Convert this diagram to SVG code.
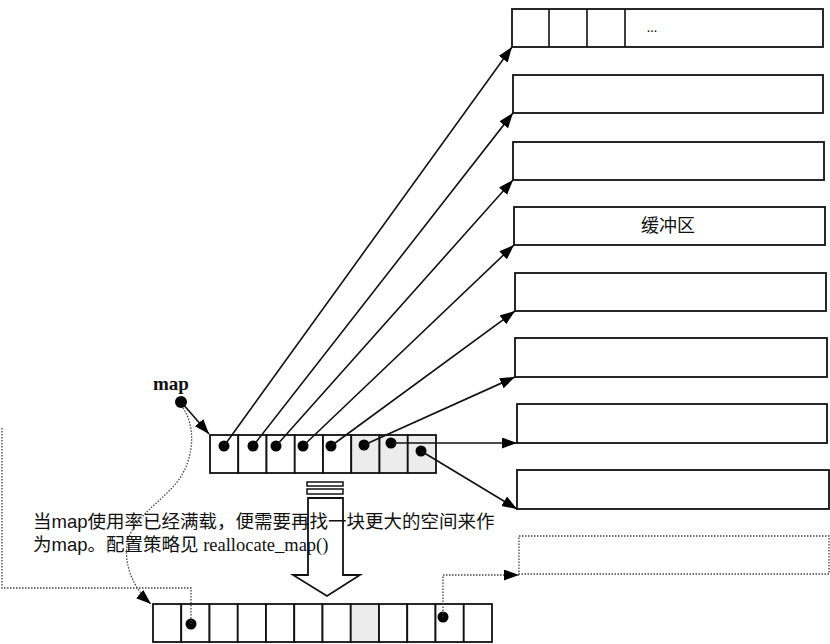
<svg xmlns="http://www.w3.org/2000/svg" width="830" height="644" viewBox="0 0 830 644">
<defs>
<style>
.box{fill:#fff;stroke:#111;stroke-width:1.8}
.dbox{fill:none;stroke:#444;stroke-width:1.3;stroke-dasharray:1.5 1.5}
.cell{fill:#fff;stroke:#111;stroke-width:1.8}
.shade{fill:#ececec;stroke:#111;stroke-width:1.8}
.dot{fill:#000}
.ln{fill:none;stroke:#111;stroke-width:1.6}
.dl{fill:none;stroke:#444;stroke-width:1.3;stroke-dasharray:1.5 1.5}
.cjk{font-family:"Liberation Sans","Noto Sans CJK SC",sans-serif;fill:#111}
.serif{font-family:"Liberation Serif","Noto Sans CJK SC",serif}
</style>
<marker id="ah" markerUnits="userSpaceOnUse" markerWidth="18" markerHeight="12" refX="15" refY="5.5" orient="auto">
<path d="M0,0 L15,5.5 L0,11 Z" fill="#000"/>
</marker>
</defs>

<!-- buffers -->
<g id="buf1">
<rect class="box" x="512" y="9" width="311" height="38"/>
<line class="ln" x1="549" y1="9" x2="549" y2="47"/>
<line class="ln" x1="587" y1="9" x2="587" y2="47"/>
<line class="ln" x1="625" y1="9" x2="625" y2="47"/>
<text class="serif" x="652" y="32" font-size="14" text-anchor="middle" fill="#111">...</text>
</g>
<g id="buf2"><rect class="box" x="513" y="75" width="310" height="38"/></g>
<g id="buf3"><rect class="box" x="513" y="142" width="311" height="38"/></g>
<g id="buf4"><rect class="box" x="514" y="207" width="311" height="38"/>
<text class="cjk" x="668" y="232" font-size="18" text-anchor="middle">缓冲区</text></g>
<g id="buf5"><rect class="box" x="515" y="273" width="311" height="38"/></g>
<g id="buf6"><rect class="box" x="515" y="338" width="312" height="39"/></g>
<g id="buf7"><rect class="box" x="517" y="404" width="310" height="39"/></g>
<g id="buf8"><rect class="box" x="517" y="470" width="312" height="39"/></g>
<g id="buf9"><rect class="dbox" x="519" y="536" width="310" height="38"/></g>

<!-- map label -->
<g id="map">
<text x="153" y="390" font-family="Liberation Serif, serif" font-weight="bold" font-size="19" fill="#111">map</text>
<circle class="dot" cx="181" cy="402" r="6"/>
</g>

<!-- map array -->
<g id="maparray">
<rect class="cell" x="210" y="435" width="28.25" height="38"/>
<rect class="cell" x="238.25" y="435" width="28.25" height="38"/>
<rect class="cell" x="266.5" y="435" width="28.25" height="38"/>
<rect class="cell" x="294.75" y="435" width="28.25" height="38"/>
<rect class="cell" x="323" y="435" width="28.25" height="38"/>
<rect class="shade" x="351.25" y="435" width="28.25" height="38"/>
<rect class="shade" x="379.5" y="435" width="28.25" height="38"/>
<rect class="shade" x="407.75" y="435" width="28.25" height="38"/>
<circle class="dot" cx="224" cy="446" r="5.5"/>
<circle class="dot" cx="253" cy="446" r="5.5"/>
<circle class="dot" cx="276" cy="446" r="5.5"/>
<circle class="dot" cx="303" cy="446" r="5.5"/>
<circle class="dot" cx="331" cy="446" r="5.5"/>
<circle class="dot" cx="364" cy="445" r="5.5"/>
<circle class="dot" cx="391" cy="443" r="5.5"/>
<circle class="dot" cx="421" cy="451" r="5.5"/>
</g>

<!-- new map array -->
<g id="newmap">
<rect class="cell" x="153" y="604" width="28.25" height="38"/>
<rect class="cell" x="181.25" y="604" width="28.25" height="38"/>
<rect class="cell" x="209.5" y="604" width="28.25" height="38"/>
<rect class="cell" x="237.75" y="604" width="28.25" height="38"/>
<rect class="cell" x="266" y="604" width="28.25" height="38"/>
<rect class="cell" x="294.25" y="604" width="28.25" height="38"/>
<rect class="cell" x="322.5" y="604" width="28.25" height="38"/>
<rect class="shade" x="350.75" y="604" width="28.25" height="38"/>
<rect class="cell" x="379" y="604" width="28.25" height="38"/>
<rect class="cell" x="407.25" y="604" width="28.25" height="38"/>
<rect class="cell" x="435.5" y="604" width="28.25" height="38"/>
<rect class="cell" x="463.75" y="604" width="28.25" height="38"/>
<circle class="dot" cx="191" cy="624" r="5.5"/>
<circle class="dot" cx="443" cy="617" r="5.5"/>
</g>

<!-- big hollow arrow -->
<g id="bigarrow">
<rect x="307" y="482" width="36" height="4" fill="#fff" stroke="#111" stroke-width="1.5"/>
<rect x="307" y="489" width="36" height="5" fill="#fff" stroke="#111" stroke-width="1.5"/>
<path d="M308,498 H343 V575 H360 L327,596 L293,575 H308 Z" fill="#fff" stroke="#111" stroke-width="1.8"/>
</g>

<!-- connectors -->
<g id="connectors">
<line class="ln" x1="224" y1="446" x2="512" y2="47" marker-end="url(#ah)"/>
<line class="ln" x1="253" y1="446" x2="513" y2="113" marker-end="url(#ah)"/>
<line class="ln" x1="276" y1="446" x2="513" y2="180" marker-end="url(#ah)"/>
<line class="ln" x1="303" y1="446" x2="514" y2="245" marker-end="url(#ah)"/>
<line class="ln" x1="331" y1="446" x2="515" y2="311" marker-end="url(#ah)"/>
<line class="ln" x1="364" y1="445" x2="515" y2="377" marker-end="url(#ah)"/>
<line class="ln" x1="391" y1="443" x2="517" y2="443" marker-end="url(#ah)"/>
<line class="ln" x1="421" y1="451" x2="517" y2="509" marker-end="url(#ah)"/>
<line class="ln" x1="182" y1="403" x2="209" y2="434" marker-end="url(#ah)"/>
<path class="dl" d="M183,408 C195,425 195,455 180,478 C165,500 135,515 128,540 C122,565 135,590 151,604" marker-end="url(#ah)"/>
<path class="dl" d="M2,428 V588 H191 V624"/>
<path class="dl" d="M443,617 V575 H519" marker-end="url(#ah)"/>
</g>

<!-- caption -->
<g id="caption">
<text class="cjk" x="33" y="528" font-size="18.5">当map使用率已经满载，便需要再找一块更大的空间来作</text>
<text class="cjk" x="33" y="551" font-size="18.5">为map。配置策略见<tspan class="serif"> reallocate_map()</tspan></text>
</g>
</svg>
